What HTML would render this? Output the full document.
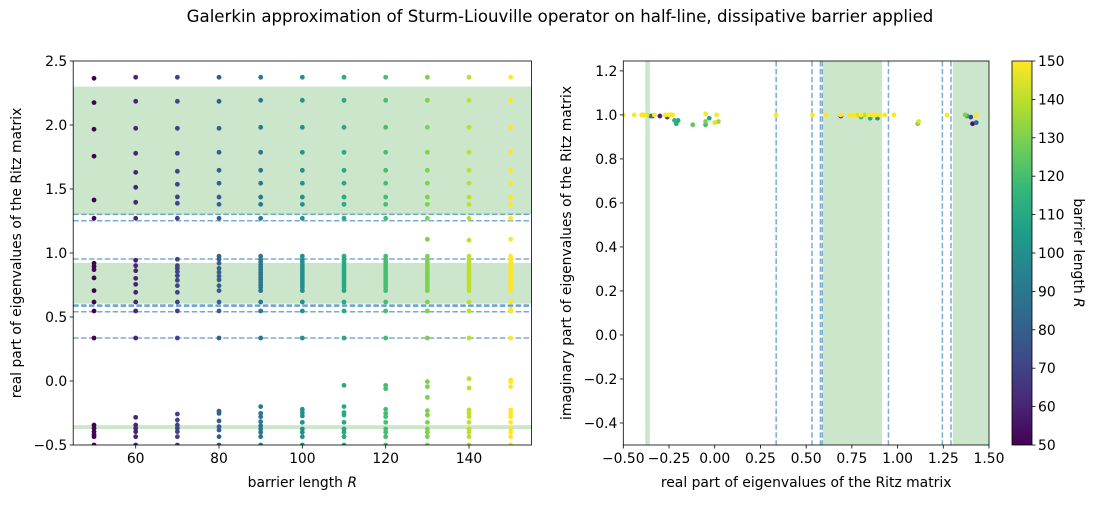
<!DOCTYPE html>
<html><head><meta charset="utf-8"><style>
body{margin:0;background:#fff}
svg text{font-family:"DejaVu Sans","Liberation Sans",sans-serif;fill:#000}
</style></head><body>
<svg id="fig" width="1098" height="502" viewBox="0 0 1098 502" xmlns="http://www.w3.org/2000/svg">
<text x="560" y="22" font-size="16.6" text-anchor="middle">Galerkin approximation of Sturm-Liouville operator on half-line, dissipative barrier applied</text>
<g id="left"></g>
<g id="right"></g>
<g id="cbar"></g>
</svg>
<script>
// ---- data ----
const barrierLengths=[50,60,70,80,90,100,110,120,130,140,150];
const upperCommon=[2.373,2.193,1.982,1.787,1.646,1.545,1.437,1.380,1.271];
const midDense=[0.975,0.95,0.93,0.91,0.89,0.87,0.85,0.83,0.81,0.79,0.77,0.75,0.73,0.706,0.617,0.547,0.336];
const eigR50=[2.365,2.175,1.967,1.756,1.414,1.271,0.92,0.895,0.87,0.805,0.706,0.617,0.547,0.336,-0.344,-0.37,-0.396,-0.42,-0.435,-0.5];
const eigR60=[2.373,2.185,1.974,1.779,1.630,1.513,1.396,1.271,0.943,0.901,0.862,0.802,0.755,0.693,0.617,0.547,0.336,-0.284,-0.344,-0.37,-0.396,-0.435,-0.5];
const eigR70=[2.373,2.185,1.974,1.779,1.638,1.537,1.438,1.388,1.271,0.951,0.901,0.880,0.854,0.823,0.787,0.745,0.693,0.617,0.547,0.336,-0.258,-0.305,-0.344,-0.37,-0.396,-0.435,-0.5];
const eigR80=[2.373,2.185,1.974,1.787,1.646,1.545,1.437,1.380,1.271,0.975,0.951,0.92,0.88,0.85,0.82,0.79,0.745,0.706,0.617,0.547,0.336,-0.236,-0.253,-0.312,-0.357,-0.383,-0.435,-0.5];
const eigR90extra=[-0.2,-0.253,-0.279,-0.318,-0.349,-0.375,-0.401,-0.435,-0.5];
const eigR100extra=[-0.221,-0.247,-0.273,-0.323,-0.375,-0.401,-0.435,-0.5];
const eigR110extra=[-0.034,-0.2,-0.247,-0.266,-0.323,-0.375,-0.401,-0.435,-0.5];
const eigR120extra=[-0.034,-0.06,-0.221,-0.253,-0.279,-0.323,-0.375,-0.401,-0.435,-0.5];
const eigR130extra=[1.107,-0.005,-0.044,-0.128,-0.232,-0.266,-0.323,-0.375,-0.401,-0.435,-0.5];
const eigR140extra=[1.10,0.018,-0.055,-0.226,-0.253,-0.279,-0.323,-0.375,-0.401,-0.435,-0.5];
const eigR150extra=[1.107,0.56,0.008,-0.005,-0.044,-0.226,-0.253,-0.279,-0.323,-0.375,-0.401,-0.435,-0.5];
const dashedLevels=[1.302,1.252,0.953,0.594,0.584,0.541,0.336];
const greenBands=[[1.30,2.30],[0.605,0.922],[-0.375,-0.345]];
const rightBands=[[-0.38,-0.355],[0.592,0.915],[1.302,1.5]];
const rightDashed=[0.336,0.532,0.578,0.588,0.95,1.245,1.292];
const complexRe=[-0.5,-0.44,-0.4,-0.39,-0.38,-0.37,-0.33,-0.27,-0.25,-0.24,-0.23,-0.05,0.01,0.336,0.535,0.61,0.69,0.74,0.76,0.78,0.8,0.82,0.84,0.86,0.88,0.9,0.93,0.98,1.27,1.37,1.43,
 -0.12,-0.05,-0.05,-0.03,-0.21,-0.2,-0.22,0.0,0.02,1.11,1.115,1.41,1.43,1.40,-0.26,-0.3,-0.34,0.89,0.85,0.8,0.69,-0.35,1.38];
const complexIm=[1,1,1,1,1,1,1,1,1,1,1,1.005,1,1,1,1,1,1,1,1,1,1,1,1,1,1,1,1,1,1,1,
 0.955,0.955,0.97,0.985,0.96,0.975,0.975,0.965,0.97,0.96,0.97,0.96,0.965,0.99,0.99,0.995,0.995,0.985,0.985,0.99,0.995,0.995,0.995];
const complexR=[150,150,150,140,150,145,150,150,150,150,150,150,150,150,150,150,150,150,150,145,150,140,150,150,150,150,150,150,150,130,150,
 125,120,130,110,110,110,115,145,135,130,145,55,80,70,70,60,70,100,110,120,60,90,110];
const cbarTicks=[50,60,70,80,90,100,110,120,130,140,150];

// ---- helpers ----
const NS="http://www.w3.org/2000/svg";
function mk(tag,attrs,parent){const e=document.createElementNS(NS,tag);for(const k in attrs)e.setAttribute(k,attrs[k]);parent.appendChild(e);return e;}
const vir=[[68,1,84],[72,40,120],[62,74,137],[49,104,142],[38,130,142],[31,158,137],[53,183,121],[110,206,88],[181,222,43],[253,231,37]];
function viridis(t){t=Math.max(0,Math.min(1,t));const p=t*9,i=Math.min(8,Math.floor(p)),f=p-i;const a=vir[i],b=vir[i+1];return `rgb(${a.map((v,k)=>Math.round(v+(b[k]-v)*f)).join(',')})`;}
function colR(R){return viridis((R-50)/100);}
function fmt(v,d){return (v<0?'\u2212':'')+Math.abs(v).toFixed(d);}
const FS=13.9;

// ---- left panel ----
const L=document.getElementById('left');
const lx0=73.2,lx1=531.5,ly0=61,ly1=445;
const lxs=v=>lx0+(v-45)/110*(lx1-lx0);
const lys=v=>ly1-(v+0.5)/3*(ly1-ly0);
mk('clipPath',{id:'lclip'},L);mk('rect',{x:lx0,y:ly0,width:lx1-lx0,height:ly1-ly0},L.lastChild);
const lg=mk('g',{'clip-path':'url(#lclip)'},L);
greenBands.forEach(b=>{const r=mk('rect',{x:lx0,y:lys(b[1]),width:lx1-lx0,height:lys(b[0])-lys(b[1]),fill:'#008000','fill-opacity':0.2},lg);

});
dashedLevels.forEach(v=>{const l=mk('line',{x1:lx0,x2:lx1,y1:lys(v),y2:lys(v),stroke:'#1f77b4','stroke-opacity':0.6,'stroke-width':1.5,'stroke-dasharray':'5.5,2.4'},lg);

});
const perR=[eigR50,eigR60,eigR70,eigR80,upperCommon.concat(midDense,eigR90extra),upperCommon.concat(midDense,eigR100extra),upperCommon.concat(midDense,eigR110extra),upperCommon.concat(midDense,eigR120extra),upperCommon.concat(midDense,eigR130extra),upperCommon.concat(midDense,eigR140extra),upperCommon.concat(midDense,eigR150extra)];
barrierLengths.forEach((R,i)=>{perR[i].forEach(v=>{const c=mk('circle',{cx:lxs(R),cy:lys(v),r:2.4,fill:colR(R)},lg);

});});
mk('rect',{x:lx0,y:ly0,width:lx1-lx0,height:ly1-ly0,fill:'none',stroke:'#000','stroke-width':0.8},L);
[60,80,100,120,140].forEach(v=>{mk('line',{x1:lxs(v),x2:lxs(v),y1:ly1,y2:ly1+3.5,stroke:'#000','stroke-width':0.8},L);
const t=mk('text',{x:lxs(v),y:ly1+18,'font-size':FS,'text-anchor':'middle'},L);t.textContent=v;

});
[-0.5,0,0.5,1,1.5,2,2.5].forEach(v=>{mk('line',{x1:lx0-3.5,x2:lx0,y1:lys(v),y2:lys(v),stroke:'#000','stroke-width':0.8},L);
const t=mk('text',{x:lx0-6,y:lys(v)+5,'font-size':FS,'text-anchor':'end'},L);t.textContent=fmt(v,1);

});
let t=mk('text',{x:(lx0+lx1)/2,y:487,'font-size':FS,'text-anchor':'middle'},L);t.innerHTML='barrier length <tspan font-style="italic">R</tspan>';


t=mk('text',{x:0,y:0,'font-size':FS,'text-anchor':'middle',transform:`translate(21,${(ly0+ly1)/2}) rotate(-90)`},L);t.textContent='real part of eigenvalues of the Ritz matrix';



// ---- right panel ----
const Rg=document.getElementById('right');
const rx0=623.3,rx1=989,ry0=61,ry1=445;
const rxs=v=>rx0+(v+0.5)/2*(rx1-rx0);
const rys=v=>ry1-(v+0.5)/1.745*(ry1-ry0);
mk('clipPath',{id:'rclip'},Rg);mk('rect',{x:rx0,y:ry0,width:rx1-rx0,height:ry1-ry0},Rg.lastChild);
const rg=mk('g',{'clip-path':'url(#rclip)'},Rg);
rightBands.forEach(b=>{const r=mk('rect',{x:rxs(b[0]),y:ry0,width:rxs(b[1])-rxs(b[0]),height:ry1-ry0,fill:'#008000','fill-opacity':0.2},rg);

});
rightDashed.forEach(v=>{const l=mk('line',{x1:rxs(v),x2:rxs(v),y1:ry0,y2:ry1,stroke:'#1f77b4','stroke-opacity':0.6,'stroke-width':1.5,'stroke-dasharray':'5.5,2.4'},rg);

});
const order=complexR.map((r,i)=>i).sort((a,b)=>complexR[a]-complexR[b]);
order.forEach(i=>{const c=mk('circle',{cx:rxs(complexRe[i]),cy:rys(complexIm[i]),r:2.4,fill:colR(complexR[i])},rg);

});
mk('rect',{x:rx0,y:ry0,width:rx1-rx0,height:ry1-ry0,fill:'none',stroke:'#000','stroke-width':0.8},Rg);
[-0.5,-0.25,0,0.25,0.5,0.75,1,1.25,1.5].forEach(v=>{mk('line',{x1:rxs(v),x2:rxs(v),y1:ry1,y2:ry1+3.5,stroke:'#000','stroke-width':0.8},Rg);
const t=mk('text',{x:rxs(v),y:ry1+18,'font-size':FS,'text-anchor':'middle'},Rg);t.textContent=fmt(v,2);

});
[-0.4,-0.2,0,0.2,0.4,0.6,0.8,1,1.2].forEach(v=>{mk('line',{x1:rx0-3.5,x2:rx0,y1:rys(v),y2:rys(v),stroke:'#000','stroke-width':0.8},Rg);
const t=mk('text',{x:rx0-6,y:rys(v)+5,'font-size':FS,'text-anchor':'end'},Rg);t.textContent=fmt(v,1);

});
t=mk('text',{x:(rx0+rx1)/2,y:487,'font-size':FS,'text-anchor':'middle'},Rg);t.textContent='real part of eigenvalues of the Ritz matrix';


t=mk('text',{x:0,y:0,'font-size':FS,'text-anchor':'middle',transform:`translate(571,${(ry0+ry1)/2}) rotate(-90)`},Rg);t.textContent='imaginary part of eigenvalues of the Ritz matrix';



// ---- colorbar ----
const C=document.getElementById('cbar');
const cx0=1012,cx1=1032,cy0=61,cy1=445;
const defs=mk('defs',{},C);const grad=mk('linearGradient',{id:'vg',x1:0,y1:1,x2:0,y2:0},defs);
vir.forEach((c,i)=>mk('stop',{offset:i/9,'stop-color':`rgb(${c.join(',')})`},grad));
mk('rect',{x:cx0,y:cy0,width:cx1-cx0,height:cy1-cy0,fill:'url(#vg)',stroke:'#000','stroke-width':0.8},C);
const cys=v=>cy1-(v-50)/100*(cy1-cy0);
cbarTicks.forEach(v=>{mk('line',{x1:cx1,x2:cx1+3.5,y1:cys(v),y2:cys(v),stroke:'#000','stroke-width':0.8},C);
const t=mk('text',{x:cx1+6,y:cys(v)+5,'font-size':FS},C);t.textContent=v;

});
t=mk('text',{x:0,y:0,'font-size':FS,'text-anchor':'middle',transform:`translate(1074,${(cy0+cy1)/2}) rotate(90)`},C);t.innerHTML='barrier length <tspan font-style="italic">R</tspan>';


</script>
</body></html>
